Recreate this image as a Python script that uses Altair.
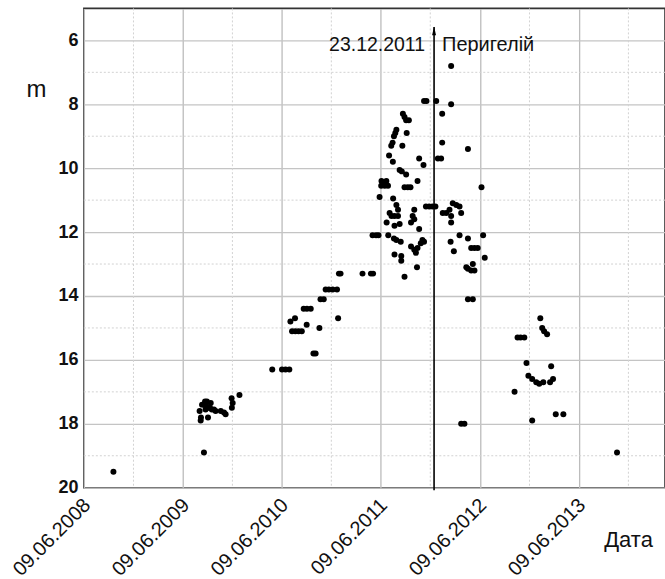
import altair as alt
import pandas as pd

# ---- observations: date of observation and magnitude m ----
obs_date = [
    "2008-09-26",
    "2009-08-26", "2009-08-14", "2009-08-15", "2009-08-10", "2009-08-19", "2009-08-26",
    "2009-08-30", "2009-09-03", "2009-09-06", "2009-09-20", "2009-09-01", "2009-09-13",
    "2009-09-17", "2009-09-24", "2009-09-10", "2009-10-02", "2009-10-08", "2009-10-27",
    "2009-11-08", "2009-11-14", "2009-12-07", "2009-12-10", "2009-12-06", "2010-01-04",
    "2010-05-05", "2010-06-10", "2010-06-23", "2010-07-07", "2010-07-17", "2010-07-29",
    "2010-08-10", "2010-08-22", "2010-07-11", "2010-07-28", "2010-09-09", "2010-10-26",
    "2011-01-03", "2010-08-29", "2010-09-10", "2010-09-24", "2010-10-04", "2010-10-12",
    "2010-10-30", "2010-11-11", "2010-11-18", "2010-11-30", "2010-12-14", "2010-12-30",
    "2011-01-06", "2011-01-12", "2011-04-03", "2011-05-04", "2011-05-12",
    "2011-05-10", "2011-05-23", "2011-06-01", "2011-06-05", "2011-06-12", "2011-06-18",
    "2011-06-30", "2011-06-11", "2011-06-24", "2011-07-06", "2011-07-07", "2011-07-01",
    "2011-07-10", "2011-07-12", "2011-07-19", "2011-07-18", "2011-07-24", "2011-07-25",
    "2011-07-23", "2011-07-28", "2011-07-28", "2011-07-30", "2011-07-30", "2011-07-30",
    "2011-08-02", "2011-08-06", "2011-08-06", "2011-08-06", "2011-08-12", "2011-08-12",
    "2011-08-18", "2011-08-18", "2011-08-22", "2011-08-24", "2011-08-24", "2011-08-26",
    "2011-08-28", "2011-08-30", "2011-09-05", "2011-09-05", "2011-09-05", "2011-09-11",
    "2011-09-11", "2011-09-13", "2011-09-17", "2011-09-21", "2011-09-27", "2011-09-29",
    "2011-09-29", "2011-10-05", "2011-10-11", "2011-10-11", "2011-10-11", "2011-10-17",
    "2011-10-21", "2011-10-23", "2011-10-23", "2011-10-29", "2011-10-29", "2011-11-04",
    "2011-11-10", "2011-11-14", "2011-11-16", "2011-11-16", "2011-11-25", "2011-11-23",
    "2011-12-05", "2011-12-17", "2011-12-28", "2011-12-31",
    "2012-01-06", "2012-01-18", "2012-01-22", "2012-01-22", "2012-01-24", "2012-02-06",
    "2012-02-18", "2012-02-22", "2012-02-24", "2012-02-24", "2012-02-24", "2012-02-24",
    "2012-03-01", "2012-03-05", "2012-03-14", "2012-03-26", "2012-03-26", "2012-04-01",
    "2012-04-01", "2012-04-13", "2012-04-20", "2012-04-26", "2012-04-26", "2012-04-26",
    "2012-04-26", "2012-05-08", "2012-05-08", "2012-05-14", "2012-05-14", "2012-05-20",
    "2012-05-20", "2012-06-01", "2012-06-15", "2012-06-21", "2012-06-27",
    "2012-10-15", "2012-10-26", "2012-11-06", "2012-11-20", "2012-11-28", "2012-12-05",
    "2012-12-19", "2012-12-19", "2013-01-03", "2013-01-14", "2013-01-29", "2013-01-18",
    "2013-01-25", "2013-02-01", "2013-02-12", "2013-02-27", "2013-02-23", "2013-03-06",
    "2013-03-16", "2013-04-13", "2013-10-28",
]
obs_mag = [
    19.5,
    18.9, 17.9, 17.8, 17.6, 17.4, 17.4,
    17.3, 17.45, 17.3, 17.35, 17.55, 17.5,
    17.5, 17.55, 17.8, 17.55, 17.6, 17.6,
    17.65, 17.7, 17.5, 17.35, 17.2, 17.1,
    16.3, 16.3, 16.3, 16.3, 15.1, 15.1,
    15.1, 15.1, 14.8, 14.7, 14.9, 15.0,
    14.7, 14.4, 14.4, 14.4, 15.8, 15.8,
    14.1, 14.1, 13.8, 13.8, 13.8, 13.8,
    13.3, 13.3, 13.3, 13.3, 13.3,
    12.1, 12.1, 12.1, 10.9, 10.4, 10.5,
    10.4, 10.55, 10.55, 10.55, 12.1, 11.7,
    9.6, 11.4, 11.5, 9.3, 9.8, 10.95,
    9.2, 9.0, 12.2, 11.5, 12.7, 11.8,
    8.9, 8.8, 11.15, 12.25, 11.3, 11.5,
    10.06, 11.75, 12.3, 12.75, 12.9, 10.1,
    9.3, 8.3, 8.4, 10.6, 13.4, 8.5,
    10.2, 8.9, 10.6, 8.5, 10.6, 12.45,
    11.7, 11.5, 11.3, 11.6, 12.55, 12.65,
    13.1, 10.4, 12.5, 9.7, 11.9, 12.35,
    12.25, 9.9, 12.3, 7.9, 7.9, 11.2,
    11.2, 11.2, 11.2, 7.9,
    9.7, 9.7, 8.3, 9.2, 11.4, 11.4,
    11.3, 12.3, 11.5, 11.7, 6.8, 8.0,
    11.1, 12.6, 11.15, 11.2, 12.1, 11.4,
    18.0, 18.0, 13.1, 12.2, 13.15, 9.4,
    14.1, 12.5, 13.2, 13.0, 14.1, 12.5,
    13.2, 12.5, 10.6, 12.1, 12.8,
    17.0, 15.3, 15.3, 15.3, 16.1, 16.5,
    16.6, 17.9, 16.7, 16.75, 16.7, 14.7,
    15.0, 15.1, 15.2, 16.2, 16.7, 16.6,
    17.7, 17.7, 18.9,
]

# ---- axes / grid values ----
year_ticks = ["2008-06-09", "2009-06-09", "2010-06-09", "2011-06-09", "2012-06-09", "2013-06-09"]
half_year_lines = ["2008-12-09", "2009-12-09", "2010-12-09", "2011-12-09", "2012-12-09", "2013-12-09"]
x_domain = ["2008-06-09", "2014-04-23"]
major_m = [6, 8, 10, 12, 14, 16, 18, 20]
minor_m = [7, 9, 11, 13, 15, 17, 19]
perihelion_date = ["2011-12-23"]
perihelion_label = "23.12.2011"
perihelion_text = "Перигелій"

FONT = "Liberation Sans"
W, H = 582, 480


def dt(s):
    y, mo, d = (int(v) for v in s.split("-"))
    return alt.DateTime(year=y, month=mo, date=d, utc=True)


xscale = alt.Scale(type="utc", domain=[dt(s) for s in x_domain], nice=False)
yscale = alt.Scale(domain=[5, 20], reverse=True, nice=False, zero=False)

xaxis = alt.Axis(
    values=[dt(s) for s in year_ticks],
    labelExpr="utcFormat(datum.value, '%d.%m.%Y')",
    labelAngle=-45,
    labelAlign="right",
    labelBaseline="middle",
    labelPadding=14,
    labelOffset=3,
    labelFont=FONT,
    labelFontSize=20,
    labelColor="#111",
    labelOverlap=False,
    ticks=False,
    domain=False,
    grid=True,
    gridColor="#bcbcbc",
    gridWidth=1.3,
    title="Дата",
    titleFont=FONT,
    titleFontSize=22,
    titleFontWeight="normal",
    titleColor="#111",
    titleX=545,
    titleY=52,
    titleAlign="center",
    titleBaseline="middle",
)

yaxis = alt.Axis(
    values=major_m,
    labelFont=FONT,
    labelFontSize=18,
    labelFontWeight="bold",
    labelColor="#111",
    labelPadding=6,
    labelOverlap=False,
    ticks=False,
    domain=False,
    grid=True,
    gridColor="#c4c4c4",
    gridWidth=1.3,
    title="m",
    titleFont=FONT,
    titleFontSize=24,
    titleFontWeight="normal",
    titleColor="#111",
    titleAngle=0,
    titleX=-48,
    titleY=81,
    titleAlign="center",
    titleBaseline="middle",
)


def X(field):
    return alt.X(field, type="temporal", scale=xscale, axis=xaxis)


def Y(field):
    return alt.Y(field, type="quantitative", scale=yscale, axis=yaxis)


obs = pd.DataFrame({"date": obs_date, "m": obs_mag})

minor_x = alt.Chart(pd.DataFrame({"date": half_year_lines})).mark_rule(
    color="#d2d2d2", strokeDash=[2, 2], strokeWidth=1
).encode(x=X("date"))

minor_y = alt.Chart(pd.DataFrame({"m": minor_m})).mark_rule(
    color="#d2d2d2", strokeDash=[2, 2], strokeWidth=1
).encode(y=Y("m"))

points = alt.Chart(obs).mark_circle(size=36, color="black", opacity=1).encode(
    x=X("date"), y=Y("m")
)

peri = pd.DataFrame({"date": perihelion_date, "m": [5.58], "bottom": [20.08],
                     "head": [5.74], "ty": [6.13]})

arrow_line = alt.Chart(peri).mark_rule(color="black", strokeWidth=1.6, clip=False).encode(
    x=X("date"), y=Y("m"), y2="bottom:Q"
)

arrow_head = alt.Chart(peri).mark_point(
    shape="M0,-1L0.38,0.6L-0.38,0.6Z", filled=True, color="black", opacity=1, size=110
).encode(x=X("date"), y=Y("head"))

label_left = alt.Chart(peri).mark_text(
    text=perihelion_label, align="right", baseline="middle", dx=-9,
    font=FONT, fontSize=19.5, color="#111"
).encode(x=X("date"), y=Y("ty"))

label_right = alt.Chart(peri).mark_text(
    text=perihelion_text, align="left", baseline="middle", dx=8,
    font=FONT, fontSize=20, color="#111"
).encode(x=X("date"), y=Y("ty"))

chart = alt.layer(
    minor_x, minor_y, points, arrow_line, arrow_head, label_left, label_right
).properties(
    width=W,
    height=H,
    padding={"left": 84, "top": 8, "right": 0, "bottom": 91},
    autosize="none",
    background="white",
).configure_view(
    stroke="#333333", strokeWidth=1.6
)

chart.save("out.html", embed_options={"renderer": "svg", "actions": False})
